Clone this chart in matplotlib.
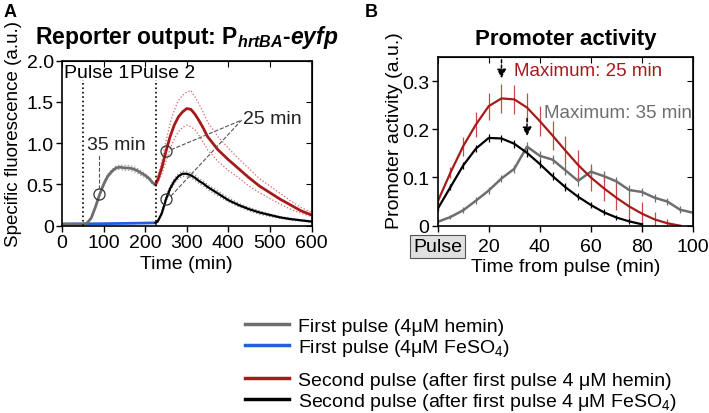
import matplotlib
matplotlib.use('Agg')
import matplotlib.pyplot as plt
from matplotlib.lines import Line2D

plt.rcParams['font.family'] = ['Liberation Sans', 'DejaVu Sans']
plt.rcParams['mathtext.fontset'] = 'custom'
plt.rcParams['mathtext.rm'] = 'Liberation Sans'
plt.rcParams['mathtext.it'] = 'Liberation Sans:italic'
plt.rcParams['mathtext.bf'] = 'Liberation Sans:bold'
plt.rcParams['mathtext.bfit'] = 'Liberation Sans:bold:italic'

# ---- panel A: reporter output (time in min, specific fluorescence) ----
t_first = [0, 20, 40, 50, 60, 70, 80, 90, 100, 110, 120, 130, 140, 150, 160, 170, 180, 190, 200, 210, 218, 225]
first_hemin = [0.02, 0.02, 0.02, 0.02, 0.03, 0.09, 0.22, 0.37, 0.50, 0.60, 0.66, 0.70, 0.71, 0.70, 0.70, 0.69, 0.67, 0.64, 0.61, 0.57, 0.52, 0.50]
first_hemin_hi = [None] * 8 + [0.52, 0.62, 0.68, 0.72, 0.74, 0.73, 0.73, 0.72, 0.70, 0.67, 0.63, 0.59, 0.54, 0.52]
first_hemin_lo = [None] * 8 + [0.48, 0.58, 0.64, 0.68, 0.68, 0.67, 0.67, 0.66, 0.64, 0.61, 0.58, 0.55, 0.50, 0.48]
t_fe = [0, 50, 100, 150, 200, 225]
first_fe = [0.02, 0.022, 0.025, 0.028, 0.032, 0.035]

t_second = [225, 230, 240, 250, 260, 270, 280, 290, 300, 310, 320, 330, 340, 350, 375, 400, 425, 450, 475, 500, 525, 550, 575, 600]
second_hemin = [0.50, 0.55, 0.70, 0.90, 1.08, 1.22, 1.32, 1.38, 1.42, 1.41, 1.35, 1.27, 1.18, 1.08, 0.92, 0.80, 0.69, 0.58, 0.48, 0.40, 0.32, 0.25, 0.18, 0.13]
second_hemin_hi = [0.52, 0.58, 0.78, 1.02, 1.24, 1.40, 1.52, 1.58, 1.62, 1.64, 1.56, 1.47, 1.37, 1.26, 1.08, 0.94, 0.81, 0.69, 0.57, 0.48, 0.39, 0.30, 0.22, 0.16]
second_hemin_lo = [0.48, 0.52, 0.62, 0.78, 0.93, 1.05, 1.14, 1.19, 1.22, 1.20, 1.16, 1.09, 1.01, 0.92, 0.78, 0.67, 0.58, 0.48, 0.40, 0.33, 0.26, 0.20, 0.15, 0.11]
second_fe = [0.035, 0.05, 0.15, 0.32, 0.45, 0.54, 0.60, 0.63, 0.63, 0.61, 0.58, 0.54, 0.51, 0.47, 0.39, 0.31, 0.25, 0.20, 0.16, 0.13, 0.10, 0.08, 0.065, 0.05]
second_fe_hi = [0.04, 0.06, 0.17, 0.35, 0.48, 0.57, 0.63, 0.66, 0.66, 0.64, 0.61, 0.57, 0.54, 0.50, 0.42, 0.34, 0.27, 0.22, 0.18, 0.14, 0.11, 0.09, 0.07, 0.06]
second_fe_lo = [0.03, 0.04, 0.13, 0.29, 0.42, 0.51, 0.57, 0.60, 0.60, 0.58, 0.55, 0.51, 0.48, 0.44, 0.36, 0.29, 0.23, 0.18, 0.14, 0.11, 0.09, 0.07, 0.055, 0.045]

pulse_times = [50, 225]

# ---- panel B: promoter activity vs time from pulse ----
tb = [0, 5, 10, 15, 20, 25, 30, 35, 40, 45, 50, 55, 60, 65, 70, 75, 80, 85, 90, 95, 100]
act_second_hemin = [0.05, 0.11, 0.165, 0.21, 0.248, 0.264, 0.262, 0.245, 0.217, 0.187, 0.156, 0.126, 0.100, 0.078, 0.058, 0.040, 0.025, 0.013, 0.005, 0.0, None]
err_second_hemin = [0.005, 0.012, 0.02, 0.025, 0.028, 0.03, 0.03, 0.03, 0.031, 0.031, 0.031, 0.03, 0.028, 0.027, 0.026, 0.025, 0.024, 0.015, 0.008, 0.002, None]
act_second_fe = [0.035, 0.08, 0.125, 0.16, 0.182, 0.181, 0.170, 0.151, 0.128, 0.103, 0.080, 0.060, 0.043, 0.028, 0.017, 0.009, 0.003, None, None, None, None]
err_second_fe = [0.004, 0.006, 0.008, 0.008, 0.008, 0.008, 0.008, 0.008, 0.008, 0.008, 0.008, 0.007, 0.007, 0.006, 0.006, 0.006, 0.005, None, None, None, None]
act_first_hemin = [0.008, 0.018, 0.032, 0.052, 0.073, 0.098, 0.118, 0.164, 0.145, 0.137, 0.115, 0.093, 0.112, 0.103, 0.092, 0.074, 0.070, 0.058, 0.050, 0.033, 0.027]
err_first_hemin = [0.004, 0.005, 0.006, 0.007, 0.008, 0.008, 0.008, 0.01, 0.01, 0.01, 0.01, 0.01, 0.01, 0.01, 0.01, 0.01, 0.009, 0.008, 0.008, 0.007, 0.006]

GRAY = '#6e6e6e'
RED = '#a51b1b'
BLUE = '#1f62dc'
FS = 14


def frame(ax):
    ax.tick_params(direction='out', length=4, labelsize=FS, width=1, pad=2)
    for s in ax.spines.values():
        s.set_linewidth(1.2)
    top = ax.secondary_xaxis('top')
    top.set_xticks(ax.get_xticks())
    top.tick_params(direction='in', length=4, labeltop=False)
    right = ax.secondary_yaxis('right')
    right.set_yticks(ax.get_yticks())
    right.tick_params(direction='in', length=4, labelright=False)


def clean(xs, ys):
    pairs = [(x, y) for x, y in zip(xs, ys) if y is not None]
    return [p[0] for p in pairs], [p[1] for p in pairs]


fig = plt.figure(figsize=(7.09, 4.14), dpi=100)

# panel A
axA = fig.add_axes([0.0874, 0.4524, 0.352, 0.3986])
axA.plot(*clean(t_first, first_hemin_hi), ls=':', color='#999999', lw=0.9)
axA.plot(*clean(t_first, first_hemin_lo), ls=':', color='#999999', lw=0.9)
axA.plot(t_second, second_hemin_hi, ls=':', color='#e06060', lw=0.9)
axA.plot(t_second, second_hemin_lo, ls=':', color='#e06060', lw=0.9)
axA.plot(t_second, second_fe_hi, ls=':', color='#888888', lw=0.9)
axA.plot(t_second, second_fe_lo, ls=':', color='#888888', lw=0.9)
axA.plot(t_fe, first_fe, color=BLUE, lw=2)
axA.plot(t_first, first_hemin, color=GRAY, lw=2)
axA.plot(t_second, second_hemin, color=RED, lw=2)
axA.plot(t_second, second_fe, color='black', lw=1.6)
for p in pulse_times:
    axA.plot([p, p], [0, 1.76], ls=':', color='black', lw=1.2)
axA.text(5, 1.86, 'Pulse 1', fontsize=FS, va='center')
axA.text(163, 1.86, 'Pulse 2', fontsize=FS, va='center')

# half-max markers
axA.plot([90, 250, 250], [0.38, 0.9, 0.32], 'o', mfc='none', mec='#333333', ms=8, mew=0.9)
axA.plot([90, 90], [0.45, 0.86], ls='--', color='#555555', lw=0.8)
axA.plot([262, 432], [0.92, 1.28], ls='--', color='#555555', lw=0.8)
axA.plot([262, 432], [0.36, 1.28], ls='--', color='#555555', lw=0.8)
axA.text(130, 0.98, '35 min', fontsize=FS, ha='center', va='center', color='#222222')
axA.text(435, 1.3, '25 min', fontsize=FS, ha='left', va='center', color='#222222')

axA.set_xlim(0, 600)
axA.set_ylim(0, 2.0)
axA.set_xticks([0, 100, 200, 300, 400, 500, 600])
axA.set_yticks([0, 0.5, 1.0, 1.5, 2.0])
axA.set_yticklabels(['0', '0.5', '1.0', '1.5', '2.0'])
axA.set_xlabel('Time (min)', fontsize=FS, labelpad=3)
axA.set_ylabel('Specific fluorescence (a.u.)', fontsize=13.5)
axA.yaxis.set_label_coords(-0.16, 0.56)
axA.set_title(r'Reporter output: P$_{\mathbfit{hrtBA}}$-$\mathbfit{eyfp}$', fontsize=16.5,
              fontweight='bold', pad=13)
frame(axA)

# panel B
axB = fig.add_axes([0.6173, 0.4524, 0.3601, 0.4076])
axB.errorbar(*clean(tb, act_first_hemin), yerr=clean(tb, err_first_hemin)[1], color=GRAY, lw=1.8,
             elinewidth=0.9, capsize=0)
axB.errorbar(*clean(tb, act_second_fe), yerr=clean(tb, err_second_fe)[1], color='black', lw=1.6,
             elinewidth=0.9, capsize=0)
axB.errorbar(*clean(tb, act_second_hemin), yerr=clean(tb, err_second_hemin)[1], color=RED, lw=1.6,
             ecolor='#d04848', elinewidth=0.9, capsize=0)
axB.annotate('', xy=(25, 0.3), xytext=(25, 0.35),
             arrowprops=dict(arrowstyle='-|>', ls=(0, (2, 1.5)), color='black', lw=1.1, mutation_scale=13))
axB.annotate('', xy=(35, 0.18), xytext=(35, 0.228),
             arrowprops=dict(arrowstyle='-|>', ls=(0, (2, 1.5)), color='black', lw=1.1, mutation_scale=13))
axB.text(30, 0.321, 'Maximum: 25 min', color=RED, fontsize=13.5, va='center')
axB.text(41.5, 0.235, 'Maximum: 35 min', color=GRAY, fontsize=13.5, va='center')

axB.set_xlim(0, 100)
axB.set_ylim(0, 0.35)
axB.set_xticks([0, 20, 40, 60, 80, 100])
axB.set_xticklabels(['Pulse', '20', '40', '60', '80', '100'])
axB.set_yticks([0, 0.1, 0.2, 0.3])
axB.set_yticklabels(['0', '0.1', '0.2', '0.3'])
axB.set_xlabel('Time from pulse (min)', fontsize=FS, labelpad=2)
axB.set_ylabel('Promoter activity (a.u.)', fontsize=FS)
axB.yaxis.set_label_coords(-0.136, 0.57)
axB.set_title('Promoter activity', fontsize=16, fontweight='bold', pad=9)
frame(axB)
axB.tick_params(axis='x', pad=5)
axB.get_xticklabels()[0].set_bbox(dict(boxstyle='square,pad=0.15', fc='#e0e0e0', ec='#555555', lw=0.8))

fig.text(0.005, 0.97, 'A', fontsize=13, fontweight='bold', va='center')
fig.text(0.515, 0.97, 'B', fontsize=13, fontweight='bold', va='center')

# legend below the panels
h1 = [Line2D([], [], color=GRAY, lw=2.5), Line2D([], [], color=BLUE, lw=2.5)]
l1 = ['First pulse (4μM hemin)', r'First pulse (4μM FeSO$_4$)']
h2 = [Line2D([], [], color=RED, lw=2.5), Line2D([], [], color='black', lw=2.5)]
l2 = ['Second pulse (after first pulse 4 μM hemin)', r'Second pulse (after first pulse 4 μM FeSO$_4$)']
kw = dict(loc='upper left', frameon=False, fontsize=14, handlelength=2.3, handletextpad=0.45,
          labelspacing=0.1, borderpad=0, borderaxespad=0)
fig.legend(h1, l1, bbox_to_anchor=(0.345, 0.232), **kw)
fig.legend(h2, l2, bbox_to_anchor=(0.345, 0.1), **kw)

fig.savefig('out.png', dpi=100)
